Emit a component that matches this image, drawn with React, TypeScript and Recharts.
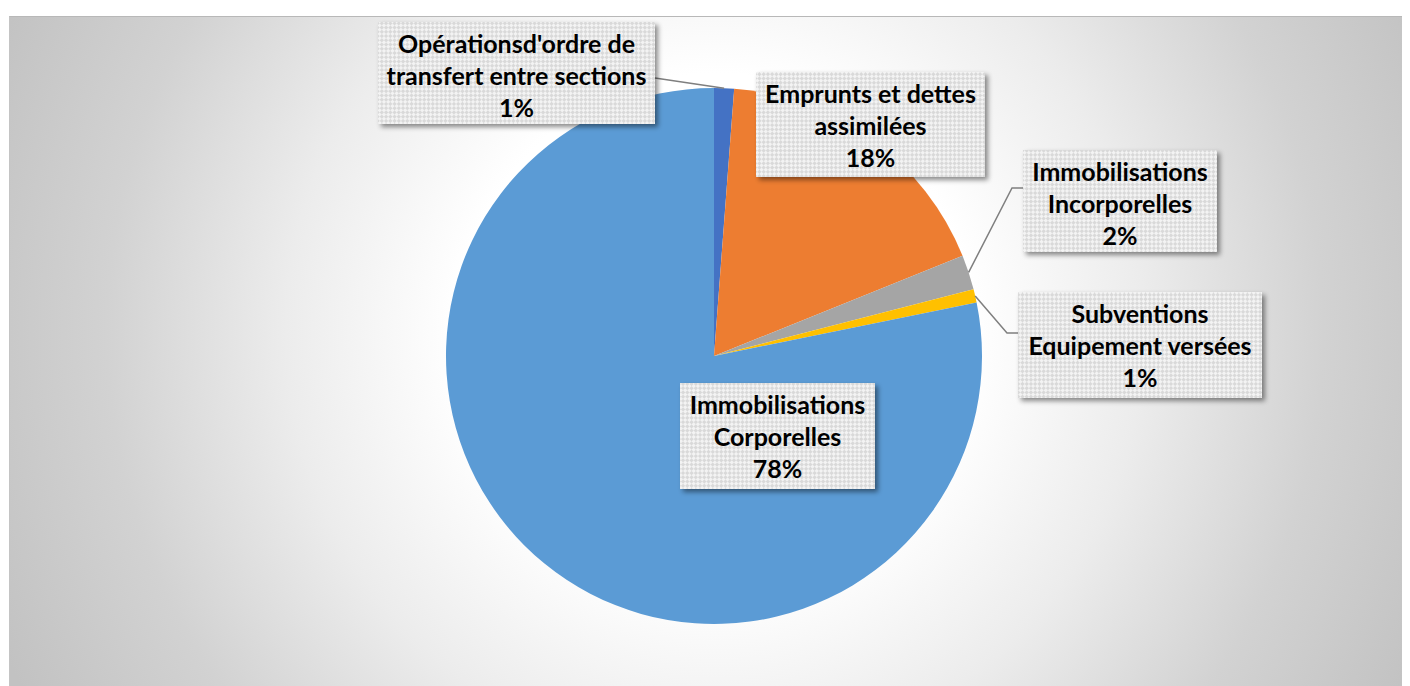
import { PieChart, Pie, Cell } from "recharts"

const categories = [
  "Opérationsd'ordre de\ntransfert entre sections",
  "Emprunts et dettes\nassimilées",
  "Immobilisations\nIncorporelles",
  "Subventions\nEquipement versées",
  "Immobilisations\nCorporelles",
]
const values = [1.2, 17.7, 2.1, 0.8, 78.2]
const colors = ["#4472C4", "#ED7D31", "#A5A5A5", "#FFC000", "#5B9BD5"]

// label box placement (Excel placed these by hand)
const labelBoxes = [
  { x: 378, y: 22, w: 277, h: 102, side: "right", attachY: 56, line: true },
  { x: 756, y: 72, w: 229, h: 105, side: "left", attachY: 0, line: false },
  { x: 1023, y: 150, w: 194, h: 102, side: "left", attachY: 38, line: true },
  { x: 1018, y: 292, w: 244, h: 106, side: "left", attachY: 41, line: true },
  { x: 680, y: 383, w: 195, h: 106, side: "left", attachY: 0, line: false },
]

const data = categories.map((name, i) => ({ name, value: values[i] }))
const RAD = Math.PI / 180
const FONT = "Lato, 'Open Sans', sans-serif"

function renderLabel(props: any) {
  const { cx, cy, midAngle, outerRadius, percent, index, name } = props
  const b = labelBoxes[index]
  const lines = String(name).split("\n")
  const px = cx + outerRadius * Math.cos(-midAngle * RAD)
  const py = cy + outerRadius * Math.sin(-midAngle * RAD)
  let path = ""
  if (b.line) {
    const ay = b.y + b.attachY
    if (b.side === "right") {
      path = `M${b.x + b.w},${ay} L${px},${py}`
    } else {
      path = `M${px},${py} L${b.x - 11},${ay} L${b.x},${ay}`
    }
  }
  const mx = b.x + b.w / 2
  return (
    <g key={`lbl-${index}`}>
      {path && <path d={path} stroke="#7f7f7f" strokeWidth={1.5} fill="none" />}
      <rect x={b.x} y={b.y} width={b.w} height={b.h} fill="url(#hatch)" filter="url(#boxShadow)" />
      {[...lines, `${Math.round(percent * 100)}%`].map((t, j) => (
        <text
          key={j}
          x={mx}
          y={b.y + 21 + j * 32}
          textAnchor="middle"
          dominantBaseline="central"
          fontFamily={FONT}
          fontWeight={700}
          fontSize={25}
          fill="#000"
        >
          {t}
        </text>
      ))}
    </g>
  )
}

export default function App() {
  return (
    <div style={{ position: "relative", width: 1410, height: 686, margin: "-8px 0 0 -8px", background: "#fff", overflow: "hidden" }}>
      <div
        style={{
          position: "absolute", left: 9, top: 16, width: 1401, height: 670,
          borderTop: "1px solid #b8b8b8", borderLeft: "1px solid #c4c4c4", boxSizing: "border-box",
          background: "radial-gradient(circle 780px at 705px 314px, #ffffff 0%, #ffffff 33%, #ececec 55%, #d2d2d2 78%, #c2c2c2 100%)",
        }}
      />
      <div style={{ position: "absolute", left: 0, top: 0 }}>
        <PieChart width={1410} height={686} margin={{ top: 0, right: 0, bottom: 0, left: 0 }}>
          <defs>
            <pattern id="hatch" width={6} height={6} patternUnits="userSpaceOnUse" patternTransform="rotate(45)">
              <rect width={6} height={6} fill="#f3f3f3" />
              <rect width={3} height={3} fill="#d9d9d9" />
              <rect x={3} y={3} width={3} height={3} fill="#d9d9d9" />
            </pattern>
            <filter id="boxShadow" x="-10%" y="-10%" width="130%" height="140%">
              <feDropShadow dx={3} dy={3} stdDeviation={2.5} floodColor="#000" floodOpacity={0.45} />
            </filter>
          </defs>
          <Pie
            data={data}
            dataKey="value"
            nameKey="name"
            cx={714}
            cy={356}
            outerRadius={268}
            startAngle={90}
            endAngle={-270}
            stroke="none"
            label={renderLabel}
            labelLine={false}
            isAnimationActive={false}
          >
            {data.map((d, i) => (
              <Cell key={d.name} fill={colors[i]} />
            ))}
          </Pie>
        </PieChart>
      </div>
    </div>
  )
}
